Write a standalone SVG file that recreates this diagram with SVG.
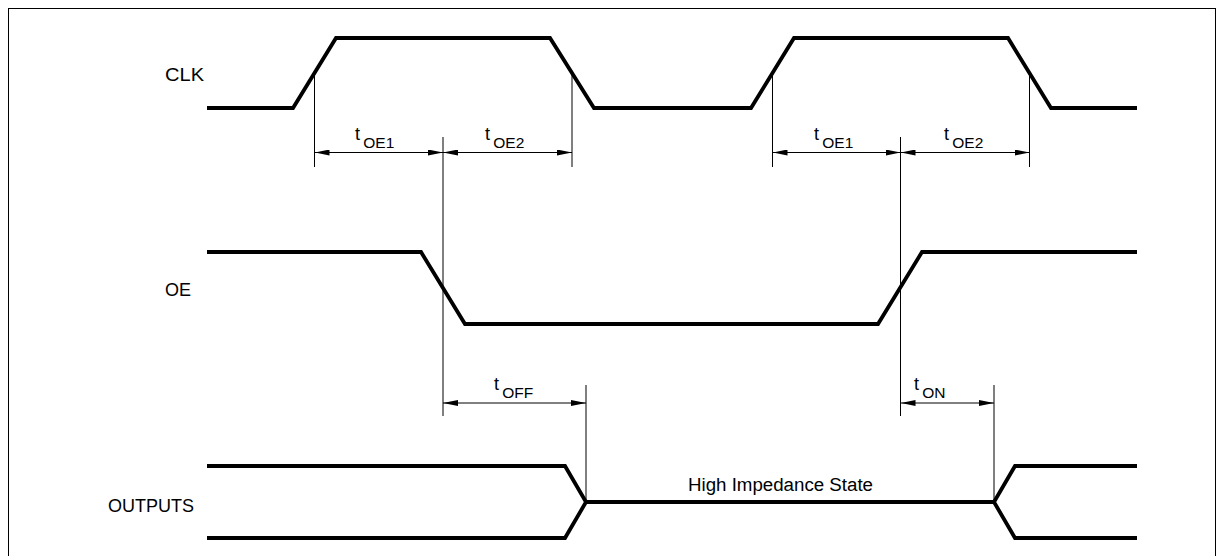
<svg xmlns="http://www.w3.org/2000/svg" width="1224" height="556" viewBox="0 0 1224 556">
  <style>
    .sig { fill: none; stroke: #000; stroke-width: 3.8; stroke-linejoin: miter; }
    .thin { fill: none; stroke: #000; stroke-width: 1; }
    .dim { fill: none; stroke: #000; stroke-width: 1; marker-start: url(#arr); marker-end: url(#arr); }
    .lbl { font-family: "Liberation Sans", Arial, sans-serif; font-size: 18px; fill: #000; }
    .t { font-family: "Liberation Sans", Arial, sans-serif; font-size: 18px; fill: #000; }
    .sub { font-size: 15.5px; }
  </style>
  <defs>
    <marker id="arr" markerUnits="userSpaceOnUse" markerWidth="15" markerHeight="6" refX="15" refY="3" orient="auto-start-reverse" viewBox="0 0 15 6">
      <path d="M0,0 L15,3 L0,6 z" fill="#000"/>
    </marker>
  </defs>
  <rect x="0" y="0" width="1224" height="556" fill="#fff"/>
  <rect x="8.5" y="8.5" width="1207" height="600" fill="none" stroke="#000" stroke-width="1"/>

  <g id="clk">
    <text class="lbl" x="165" y="81" textLength="39" lengthAdjust="spacingAndGlyphs">CLK</text>
    <polyline class="sig" points="207,108 293,108 336,38 550,38 594,108 751,108 794,38 1008,38 1051,108 1137,108"/>
  </g>
  <g id="oe">
    <text class="lbl" x="165" y="296">OE</text>
    <polyline class="sig" points="207,252 421,252 465,324 878,324 922,252 1137,252"/>
  </g>
  <g id="outputs">
    <text class="lbl" x="108" y="512">OUTPUTS</text>
    <polyline class="sig" points="207,466 565,466 586,502 565,538 207,538"/>
    <line class="sig" x1="586" y1="502" x2="994" y2="502"/>
    <polyline class="sig" points="1137,466 1015,466 994,502 1015,538 1137,538"/>
    <text class="lbl" x="688" y="491" font-size="18.5" textLength="185" lengthAdjust="spacingAndGlyphs">High Impedance State</text>
  </g>

  <g id="connectors">
    <line class="thin" x1="314.5" y1="73" x2="314.5" y2="167"/>
    <line class="thin" x1="443" y1="137" x2="443" y2="416"/>
    <line class="thin" x1="572" y1="72" x2="572" y2="167"/>
    <line class="thin" x1="772.5" y1="73" x2="772.5" y2="167"/>
    <line class="thin" x1="900.5" y1="137" x2="900.5" y2="416"/>
    <line class="thin" x1="1029.5" y1="72" x2="1029.5" y2="167"/>
    <line class="thin" x1="586" y1="385" x2="586" y2="502"/>
    <line class="thin" x1="994" y1="385" x2="994" y2="502"/>

    <line class="dim" x1="314.5" y1="152.5" x2="443" y2="152.5"/>
    <line class="dim" x1="443" y1="152.5" x2="572" y2="152.5"/>
    <line class="dim" x1="772.5" y1="152.5" x2="900.5" y2="152.5"/>
    <line class="dim" x1="900.5" y1="152.5" x2="1029.5" y2="152.5"/>
    <line class="dim" x1="443" y1="403" x2="586" y2="403"/>
    <line class="dim" x1="900.5" y1="403" x2="994" y2="403"/>
  </g>

  <g id="timing-labels">
    <text class="t" x="355" y="140">t<tspan class="sub" dx="3.3" dy="8">OE1</tspan></text>
    <text class="t" x="485" y="140">t<tspan class="sub" dx="3.3" dy="8">OE2</tspan></text>
    <text class="t" x="814" y="140">t<tspan class="sub" dx="3.3" dy="8">OE1</tspan></text>
    <text class="t" x="944" y="140">t<tspan class="sub" dx="3.3" dy="8">OE2</tspan></text>
    <text class="t" x="494" y="390">t<tspan class="sub" dx="3.3" dy="8">OFF</tspan></text>
    <text class="t" x="914" y="390">t<tspan class="sub" dx="3.3" dy="8">ON</tspan></text>
  </g>
</svg>
